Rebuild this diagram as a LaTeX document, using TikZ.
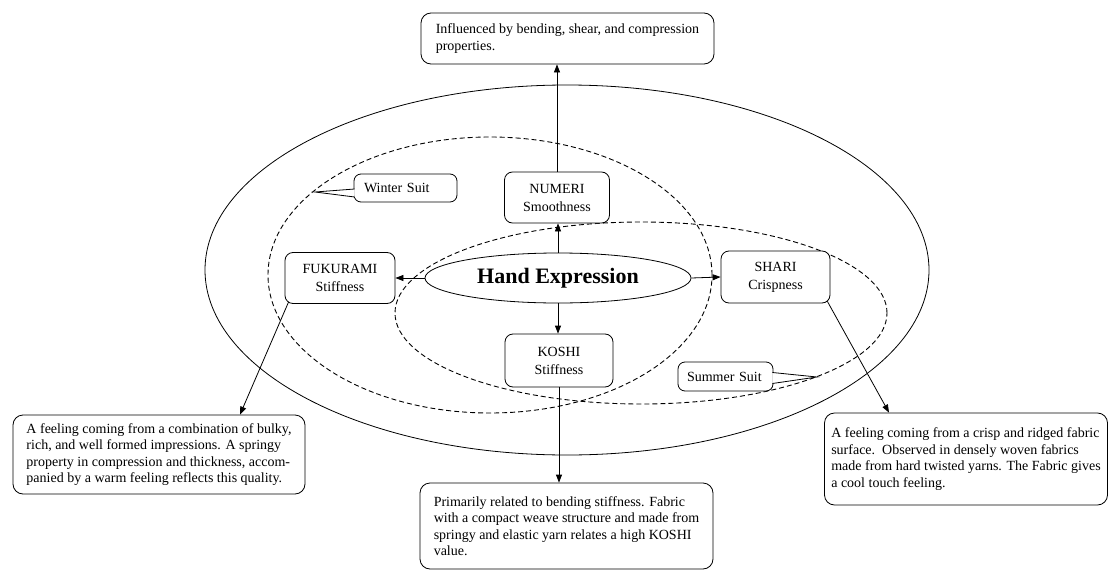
\documentclass[tikz,border=0pt]{standalone}
\usepackage{fontspec}
\setmainfont{Liberation Serif}
\usetikzlibrary{arrows.meta,shapes.geometric}

\begin{document}
\begin{tikzpicture}[x=1pt,y=-1pt,>={Triangle[length=8pt,width=6pt]},line width=0.8pt,
  tbox/.style={draw,rounded corners=8pt,fill=white,align=center,inner sep=0pt,font=\fontsize{14}{18}\selectfont},
  descbox/.style={draw,rounded corners=10pt,fill=white,align=left,inner sep=0pt,font=\fontsize{14}{16.5}\selectfont},
  callbox/.style={draw,rounded corners=7pt,fill=white,align=left,inner ysep=0pt,font=\fontsize{14}{16}\selectfont},
  suit/.style={dash pattern=on 5pt off 3pt,line width=0.9pt}]
\useasboundingbox (0,0) rectangle (1112,570);
\draw (567,270) ellipse [x radius=362pt,y radius=185pt];
\draw[suit] (490,275) ellipse [x radius=222pt,y radius=138pt];
\draw[suit] (641,313) ellipse [x radius=246pt,y radius=91pt];

\node[draw,ellipse,fill=white,minimum width=266pt,minimum height=50pt,inner sep=0pt,font=\fontsize{22}{24}\selectfont\bfseries] (hand) at (558,278) {Hand Expression};
\node[tbox,minimum width=105pt,minimum height=51pt] (numeri) at (557,197.5) {NUMERI\\Smoothness};
\node[tbox,minimum width=110pt,minimum height=51pt] (fukurami) at (340,278) {FUKURAMI\\Stiffness};
\node[tbox,minimum width=109pt,minimum height=52pt] (shari) at (775.5,277) {SHARI\\Crispness};
\node[tbox,minimum width=108pt,minimum height=53pt] (koshi) at (559,360.5) {KOSHI\\Stiffness};

\node[descbox,minimum width=293pt,minimum height=51pt] (topbox) at (567.5,38.5) {Influenced by bending, shear, and compression\\properties.};
\node[descbox,minimum width=292pt,minimum height=79pt] (leftbox) at (159,454.5) {A feeling coming from a combination of bulky,\\rich, and well formed impressions. A springy\\property in compression and thickness, accom-\\panied by a warm feeling reflects this quality.};
\node[descbox,minimum width=283pt,minimum height=92pt] (rightbox) at (966,459) {A feeling coming from a crisp and ridged fabric\\surface.\ \ Observed in densely woven fabrics\\made from hard twisted yarns. The Fabric gives\\a cool touch feeling.};
\node[descbox,minimum width=293pt,minimum height=86pt] (bottombox) at (566.5,526) {Primarily related to bending stiffness. Fabric\\with a compact weave structure and made from\\springy and elastic yarn relates a high KOSHI\\value.};

\draw[->] (hand.north) -- (hand.north |- numeri.south);
\draw[->] (numeri.north) -- (numeri.north |- topbox.south);
\draw[->] (hand.west) -- (fukurami.east);
\draw[->] (hand.east) -- (shari.west);
\draw[->] (hand.south) -- (hand.south |- koshi.north);
\draw[->] (koshi.south) -- (koshi.south |- bottombox.north);
\draw[->] ([xshift=4pt,yshift=2pt]fukurami.south west) -- ([xshift=81pt]leftbox.north);
\draw[->] ([xshift=-3pt,yshift=2pt]shari.south east) -- ([xshift=-77pt]rightbox.north);

\node[callbox,inner xsep=10pt,minimum width=103pt,minimum height=28pt,text width=83pt] (winter) at (405.5,188) {Winter Suit};
\coordinate (wtip) at (315,192);
\filldraw[fill=white] ([xshift=1pt,yshift=-1pt]winter.west) -- (wtip) -- ([xshift=1pt,yshift=-9pt]winter.west);
\node[callbox,inner xsep=9pt,minimum width=95pt,minimum height=29pt,text width=77pt] (summer) at (725.5,376.5) {Summer Suit};
\coordinate (stip) at (817,377);
\filldraw[fill=white] ([xshift=-1pt,yshift=4pt]summer.east) -- (stip) -- ([xshift=-1pt,yshift=-7pt]summer.east);
\end{tikzpicture}
\end{document}
